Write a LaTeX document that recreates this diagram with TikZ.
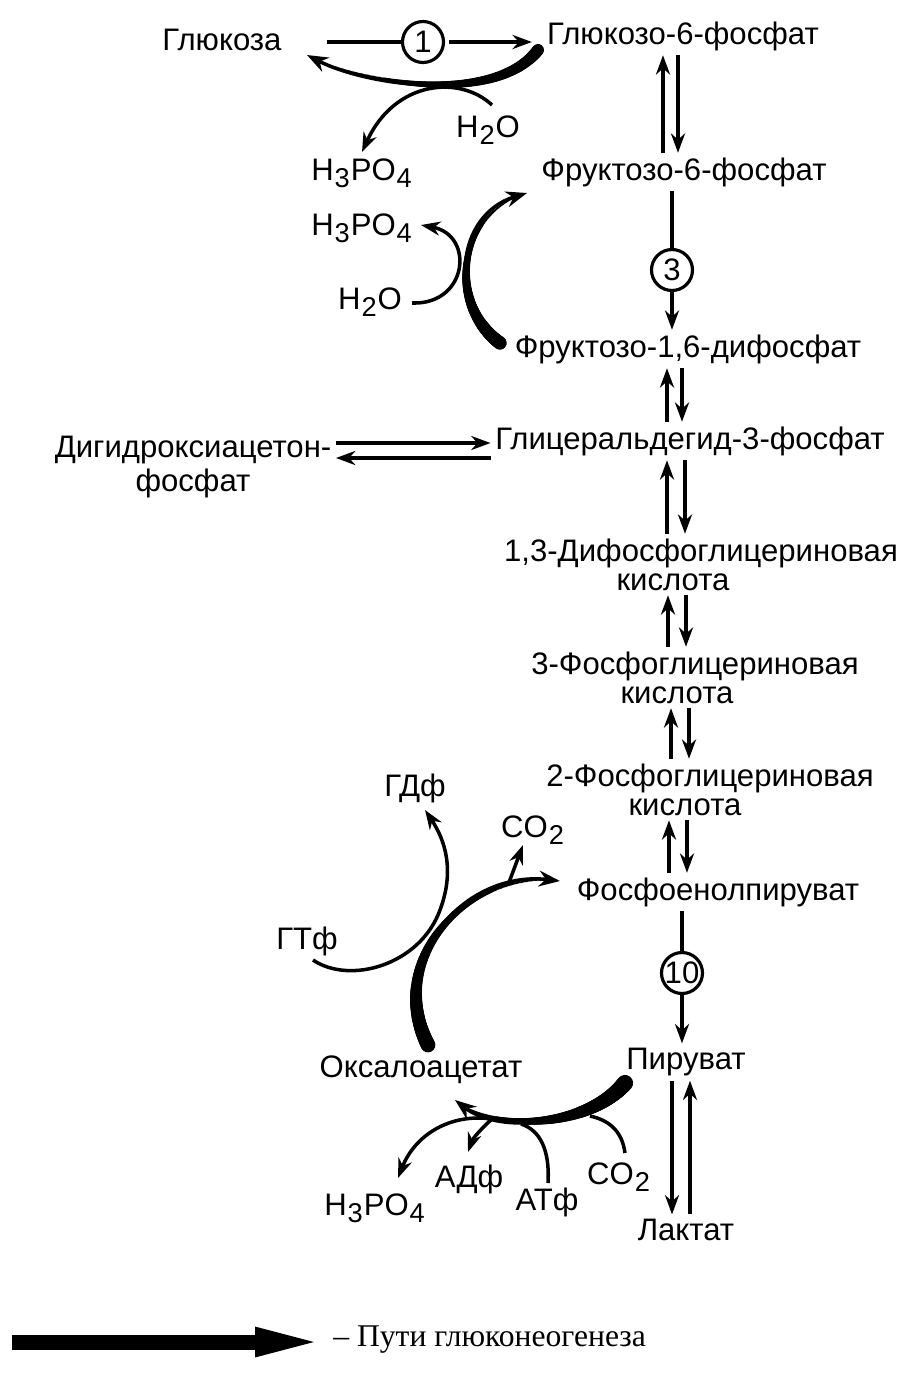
\documentclass[tikz,border=0pt]{standalone}
\usepackage{fontspec}
\setmainfont{Liberation Sans}
\newfontfamily\legfont{Liberation Serif}
\usetikzlibrary{arrows.meta,decorations.markings}
\newcommand\chsub[1]{\kern0.5pt\raisebox{-0.45ex}{\fontsize{15.5}{15.5}\selectfont #1}\kern0.5pt}
\begin{document}
\begin{tikzpicture}[x=0.02cm,y=-0.02cm,
    met/.style={font=\fontsize{17.7}{19}\selectfont, inner sep=0pt},
    enz/.style={draw, circle, line width=1.8pt, minimum size=0.82cm, inner sep=0pt,
      font=\fontsize{17.7}{19}\selectfont},
    rxn/.style={line width=2pt, -{Stealth[length=11pt,width=8pt]},
      shorten <=2.5pt, shorten >=2.5pt},
    gng/.style={line width=2pt, -{Stealth[length=12pt,width=9pt]}},
    % ruta gruesa que se adelgaza hacia la punta
    taper/.style={postaction={decorate, decoration={markings,
      mark=between positions 0 and 0.97 step 0.005 with {%
        \pgfmathsetmacro\tpw{#1*(1-\pgfkeysvalueof{/pgf/decoration/mark info/distance from start}/\pgfdecoratedpathlength)}%
        \fill (0,0) circle[radius=\tpw pt];}}}}]
    \useasboundingbox (0,0) rectangle (910,1397);
    % Metabolitos
    \node[met] (glc) at (222,40) {Глюкоза};
    \node[met] (g6p) at (683,36) {Глюкозо-6-фосфат};
    \node[met] (f6p) at (684,172) {Фруктозо-6-фосфат};
    \node[met] (f16bp) at (688,349) {Фруктозо-1,6-дифосфат};
    \node[met] (gap) at (690,441) {Глицеральдегид-3-фосфат};
    \node[met, align=center] (dhap) at (193,467) {Дигидроксиацетон-\\фосфат};
    \node[met] (bpg) at (701,553) {1,3-Дифосфоглицериновая};
    \node[met] (bpgk) at (673,582) {кислота};
    \node[met] (pg3) at (695,666) {3-Фосфоглицериновая};
    \node[met] (pg3k) at (677,695) {кислота};
    \node[met] (pg2) at (710,778) {2-Фосфоглицериновая};
    \node[met] (pg2k) at (685,807) {кислота};
    \node[met] (pep) at (718,892) {Фосфоенолпируват};
    \node[met] (pyr) at (686,1062) {Пируват};
    \node[met] (lac) at (686,1230) {Лактат};
    \node[met] (oaa) at (421,1070) {Оксалоацетат};
    % Cofactores
    \node[met] (w1) at (488,130) {H\chsub{2}O};
    \node[met] (p1) at (362,173) {H\chsub{3}PO\chsub{4}};
    \node[met] (p2) at (362,228) {H\chsub{3}PO\chsub{4}};
    \node[met] (w2) at (370,302) {H\chsub{2}O};
    \node[met] (gdp) at (415,788) {ГДф};
    \node[met] (co2a) at (533,830) {CO\chsub{2}};
    \node[met] (gtp) at (307,941) {ГТф};
    \node[met] (p3) at (375,1208) {H\chsub{3}PO\chsub{4}};
    \node[met] (adp) at (469,1179) {АДф};
    \node[met] (atp) at (547,1202) {АТф};
    \node[met] (co2b) at (619,1177) {CO\chsub{2}};
    % Enzimas
    \node[enz] (e1) at (423,42) {1};
    \node[enz] (e3) at (672,270) {3};
    \node[enz] (e10) at (682,973) {10};
    % Glucólisis
    \draw[line width=2pt, shorten <=0.9cm] (glc.east |- e1) -- (e1);
    \draw[rxn, shorten >=0.3cm] (e1) -- (g6p.west |- e1);
    \draw[rxn] (f6p.north -| 663,0) -- (g6p.south -| 663,0);
    \draw[rxn] (g6p.south -| 678,0) -- (f6p.north -| 678,0);
    \draw[line width=2pt, shorten <=2.5pt] (f6p.south -| e3) -- (e3);
    \draw[rxn, shorten <=0pt] (e3) -- (f16bp.north -| e3);
    \draw[rxn] (gap.north -| 667,0) -- (f16bp.south -| 667,0);
    \draw[rxn] (f16bp.south -| 682,0) -- (gap.north -| 682,0);
    \draw[rxn] (dhap.east |- 0,443) -- (gap.west |- 0,443);
    \draw[rxn] (gap.west |- 0,458) -- (dhap.east |- 0,458);
    \draw[rxn] (bpg.north -| 667,0) -- (gap.south -| 667,0);
    \draw[rxn] (gap.south -| 685,0) -- (bpg.north -| 685,0);
    \draw[rxn] (pg3.north -| 668,0) -- (bpgk.south -| 668,0);
    \draw[rxn] (bpgk.south -| 686,0) -- (pg3.north -| 686,0);
    \draw[rxn] (pg2.north -| 671,0) -- (pg3k.south -| 671,0);
    \draw[rxn] (pg3k.south -| 689,0) -- (pg2.north -| 689,0);
    \draw[rxn] (pep.north -| 669,0) -- (pg2k.south -| 669,0);
    \draw[rxn] (pg2k.south -| 687,0) -- (pep.north -| 687,0);
    \draw[line width=2pt, shorten <=2.5pt] (pep.south -| e10) -- (e10);
    \draw[rxn, shorten <=0pt] (e10) -- (pyr.north -| e10);
    \draw[rxn] (pyr.south -| 672,0) -- (lac.north -| 672,0);
    \draw[rxn] (lac.north -| 690,0) -- (pyr.south -| 690,0);
    % Puntos de las rutas
    \coordinate (g6pout) at (538,50);
    \coordinate (glcin) at (307,55);
    \coordinate (f16out) at (500,343);
    \coordinate (f6pin) at (527,193);
    \coordinate (oaaout) at (428,1045);
    \coordinate (pepin) at (560,881);
    \coordinate (pyrout) at (625,1083);
    \coordinate (oaain) at (455,1100);
    % Rutas de gluconeogénesis
    \draw[gng, taper=3.4] (g6pout) .. controls (495,105) and (365,85) .. (glcin);
    \draw[gng, taper=3.8] (f16out) .. controls (448,305) and (455,215) .. (f6pin);
    \draw[gng, taper=4.2] (oaaout) .. controls (385,960) and (465,870) .. (pepin);
    \draw[gng, taper=4.6] (pyrout) .. controls (590,1125) and (500,1135) .. (oaain);
    % Cofactores: líneas
    \coordinate (w1a) at (492,105);
    \coordinate (p1a) at (362,152);
    \draw[rxn, shorten <=0pt, shorten >=0pt] (w1a) .. controls (460,75) and (395,80) .. (p1a);
    \coordinate (w2a) at (412,303);
    \coordinate (p2a) at (421,225);
    \draw[rxn, shorten <=0pt, shorten >=0pt] (w2a) .. controls (468,305) and (475,235) .. (p2a);
    \coordinate (c1a) at (508,885);
    \coordinate (co2at) at (523,845);
    \draw[rxn, shorten <=0pt, shorten >=0pt] (c1a) -- (co2at);
    \coordinate (gtpa) at (313,960);
    \coordinate (gtpm) at (440,910);
    \coordinate (gdpa) at (425,810);
    \draw[rxn, shorten <=0pt, shorten >=0pt] (gtpa) .. controls (350,985) and (420,965) .. (gtpm)
      .. controls (455,870) and (445,840) .. (gdpa);
    \coordinate (pcb) at (492,1119);
    \coordinate (p3a) at (398,1178);
    \coordinate (adpa) at (468,1152);
    \draw[rxn, shorten <=0pt, shorten >=0pt] (pcb) .. controls (450,1113) and (415,1135) .. (p3a);
    \draw[rxn, shorten <=0pt, shorten >=0pt] (pcb) .. controls (482,1128) and (473,1138) .. (adpa);
    \coordinate (atpa) at (548,1183);
    \coordinate (atpb) at (521,1124);
    \draw[line width=2pt] (atpa) .. controls (550,1150) and (540,1130) .. (atpb);
    \coordinate (co2ba) at (625,1153);
    \coordinate (co2bb) at (590,1116);
    \draw[line width=2pt] (co2ba) .. controls (622,1130) and (608,1120) .. (co2bb);
    % Leyenda
    \coordinate (legs) at (12,1342);
    \node[font=\legfont\fontsize{18}{20}\selectfont, anchor=west, inner sep=0pt] (legtxt)
      at (333,1340) {– Пути глюконеогенеза};
    \draw[line width=0.3cm, -{Triangle[length=1.5cm,width=0.5cm]}, shorten >=0.06cm]
      (legs) -- (legtxt.west |- legs);
\end{tikzpicture}
\end{document}
